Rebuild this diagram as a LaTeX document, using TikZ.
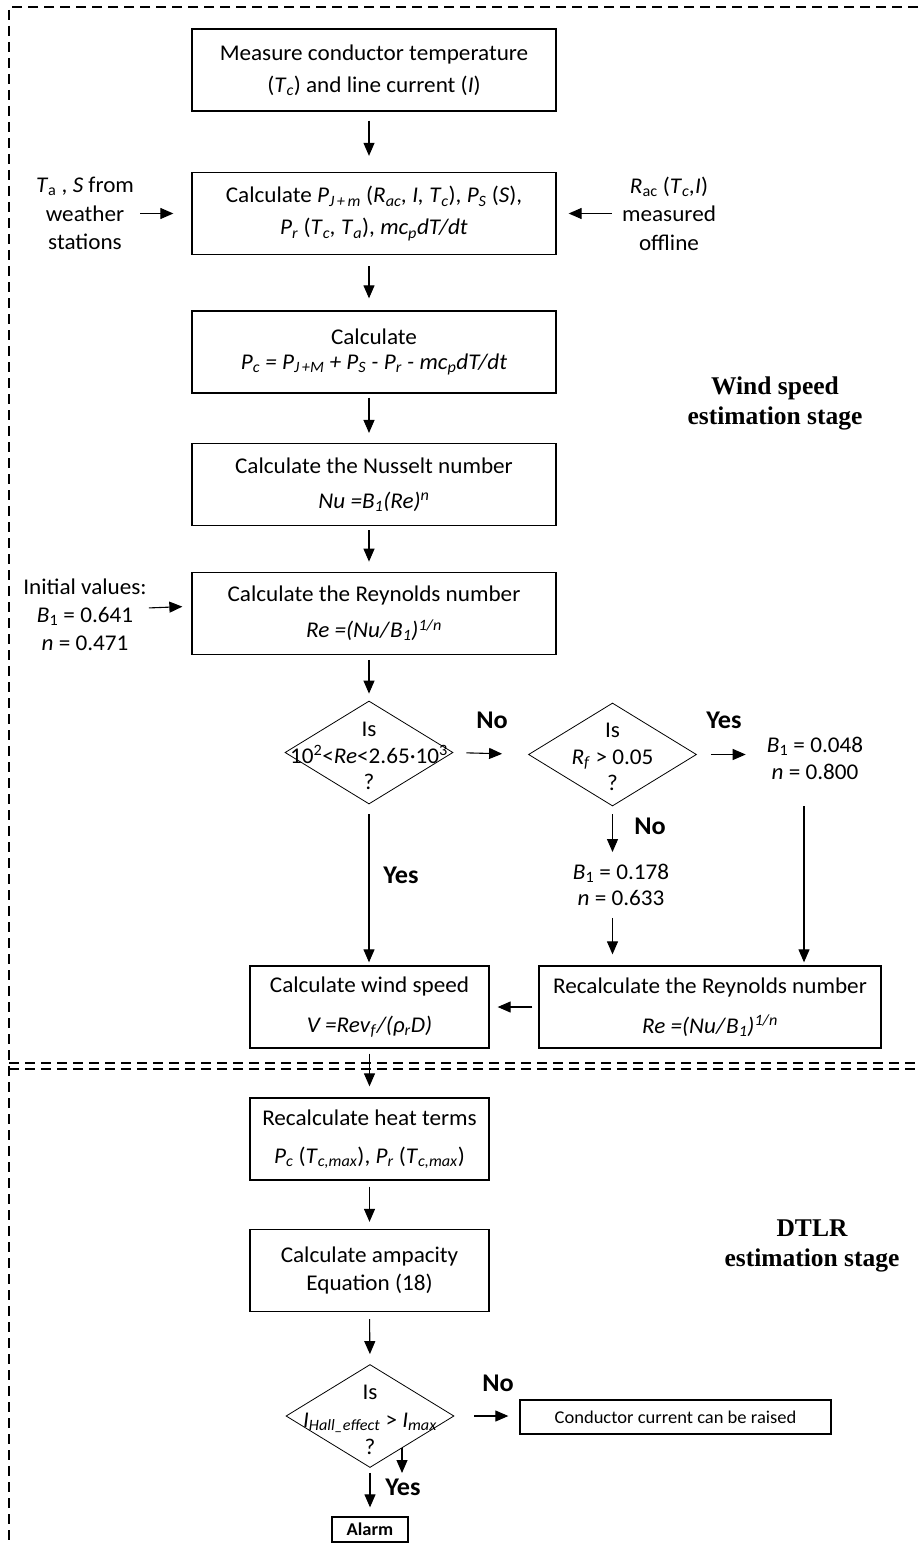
\documentclass[tikz,border=0pt]{standalone}
\usepackage{fontspec}
\setmainfont{Carlito}[FakeStretch=1.03]
\newfontfamily\tnr{Liberation Serif}
\usetikzlibrary{arrows.meta,shapes.geometric}
\newcommand\iv[2]{\textit{#1}\textsubscript{\textit{#2}}}
\newcommand\ivu[2]{\textit{#1}\textsubscript{#2}}
\begin{document}
\begin{tikzpicture}[x=1pt,y=-1pt,
  box/.style={draw, line width=1.3pt, minimum width=364pt, minimum height=82pt, inner sep=0pt, align=center, font=\fontsize{22.5}{#1}\selectfont},
  box/.default=32,
  dia/.style={draw, diamond, line width=0.8pt, minimum width=168pt, minimum height=103pt, inner sep=0pt},
  txt/.style={align=center, inner sep=0pt, font=\fontsize{22.5}{#1}\selectfont},
  txt/.default=28,
  lbl/.style={inner sep=0pt, font=\fontsize{25.5}{28}\selectfont\bfseries},
  arr/.style={draw, line width=1.1pt, -{Triangle[length=13pt,width=11pt]}},
  dashframe/.style={line width=1.2pt, dash pattern=on 10pt off 6pt},
  stage/.style={align=center, inner sep=0pt, font=\tnr\bfseries\fontsize{25.5}{30}\selectfont}
]
\useasboundingbox (0,0) rectangle (918,1546);

% frame
\draw[dashframe] (918,7) -- (9,7) -- (9,1546);
\draw[dashframe] (9,1063) -- (918,1063);
\draw[dashframe] (9,1069) -- (918,1069);

% boxes of the upper stage
\node[box=32] (b1) at (374,70) {Measure conductor temperature\\(\iv{T}{c}) and line current (\textit{I})};
\node[box=32] (b2) at (374,213.5) {Calculate \iv{P}{J\,+\,m} (\iv{R}{ac}\textit{, I, }\iv{T}{c}), \iv{P}{S} (\textit{S}),\\ \iv{P}{r} (\iv{T}{c}\textit{, }\iv{T}{a}), \textit{m}\iv{c}{p}\textit{dT/dt}};
\node[box=25] (b3) at (374,352) {Calculate\\ \iv{P}{c} \textit{=} \iv{P}{J\,+M} \textit{+} \iv{P}{S} \textit{-} \iv{P}{r} \textit{-} \textit{m}\iv{c}{p}\textit{dT/dt}};
\node[box=35] (b4) at (374,484.6) {Calculate the Nusselt number\\ \textit{Nu =}\iv{B}{1}\textit{(Re)}\textsuperscript{\textit{n}}};
\node[box=36] (b5) at (374,613.3) {Calculate the Reynolds number\\ \textit{Re =(Nu/}\iv{B}{1}\textit{)}\textsuperscript{\textit{1/n}}};

\node[txt=28.5] (ta) at (85,213.5) {\ivu{T}{a} , \textit{S} from\\ weather\\ stations};
\node[txt=28.5] (rac) at (669,213.5) {\ivu{R}{ac} (\iv{T}{c}\textit{,I})\\ measured\\ offline};
\node[txt=28] (ini) at (85,615) {Initial values:\\ \ivu{B}{1} = 0.641\\ \textit{n} = 0.471};

\node[stage] (ws) at (775,403) {Wind speed\\ estimation stage};
\node[stage] (dt) at (812,1246) {DTLR\\ estimation stage};

% decisions
\node[dia] (d1) at (369,752.5) {};
\node[txt=26.5] (d1t) at (369,756) {Is\\ 10\textsuperscript{2}<\textit{Re}<2.65·10\textsuperscript{3}\\ ?};
\node[dia] (d2) at (612.5,754.5) {};
\node[txt=26.5] (d2t) at (612.5,757) {Is\\ \iv{R}{f} > 0.05\\ ?};
\node[txt=27] (c048) at (815,758.5) {\ivu{B}{1} = 0.048\\ \textit{n} = 0.800};
\node[txt=26] (c178) at (621,885) {\ivu{B}{1} = 0.178\\ \textit{n} = 0.633};
\node[lbl] (no1) at (492,720) {No};
\node[lbl] (yes1) at (724,720) {Yes};
\node[lbl] (no2) at (650,826) {No};
\node[lbl] (yes2) at (401,875) {Yes};

\node[box=40, minimum width=342pt] (rr) at (710,1007) {Recalculate the Reynolds number\\ \textit{Re =(Nu/}\iv{B}{1}\textit{)}\textsuperscript{\textit{1/n}}};
\node[box=40, minimum width=239pt] (wv) at (369.5,1007) {Calculate wind speed\\ \textit{V =Rev}\textsubscript{\textit{f}}\textit{/(}\iv{ρ}{r}\textit{D)}};

% lower stage
\node[box=38, minimum width=239pt] (ht) at (369.5,1139) {Recalculate heat terms\\ \iv{P}{c} (\iv{T}{c,max}), \iv{P}{r} (\iv{T}{c,max})};
\node[box=28, minimum width=239pt] (amp) at (369.5,1270.5) {Calculate ampacity\\ Equation (18)};
\node[dia] (d3) at (370,1416) {};
\node[txt=27.5] (d3t) at (370,1420) {Is\\ \iv{I}{Hall\_effect} > \iv{I}{max}\\ ?};
\node[draw, line width=1.3pt, minimum width=311pt, minimum height=34pt, inner sep=0pt, font=\fontsize{18}{20}\selectfont] (cr) at (675.5,1417) {Conductor current can be raised};
\node[lbl] (no3) at (498,1383) {No};
\node[lbl] (yes3) at (403,1487) {Yes};
\node[draw, line width=1.3pt, minimum width=76pt, minimum height=25pt, inner sep=0pt, font=\fontsize{18}{20}\selectfont\bfseries] (al) at (370,1529.5) {Alarm};

\coordinate (rl) at (804,806);
\coordinate (sa) at (402,1448);
\coordinate (sb) at (402,1473);

% connectors
\draw[arr, shorten <=9pt, shorten >=16pt] (b1.south -| d1) -- (b2.north -| d1);
\draw[arr, shorten <=11pt, shorten >=12pt] (b2.south -| d1) -- (b3.north -| d1);
\draw[arr, shorten <=4pt, shorten >=10pt] (b3.south -| d1) -- (b4.north -| d1);
\draw[arr, shorten <=4pt, shorten >=10pt] (b4.south -| d1) -- (b5.north -| d1);
\draw[arr, shorten <=5pt, shorten >=7pt] (b5.south -| d1) -- (d1.north);
\draw[arr, shorten <=6pt, shorten >=18pt] (ta.east |- b2.west) -- (b2.west);
\draw[arr, shorten <=10pt, shorten >=12pt] (rac.west |- b2.east) -- (b2.east);
\draw[arr, shorten <=2pt, shorten >=9pt] ([yshift=7pt]ini.east) -- ([yshift=7pt]b5.west);
\draw[arr, shorten <=13pt, shorten >=26pt] (d1.east) -- (d2.west);
\draw[arr, shorten <=14pt, shorten >=21pt] (d2.east) -- (c048.west |- d2.east);
\draw[arr, shorten <=8pt, shorten >=12pt] (d2.south) -- (d2.south |- c178.north);
\draw[arr, shorten <=12pt, shorten >=11pt] (c178.south -| d2) -- (rr.north -| d2);
\draw[arr, shorten >=3pt] (rl) -- (rl |- rr.north);
\draw[arr, shorten <=10pt, shorten >=3pt] (d1.south) -- (d1.south |- wv.north);
\draw[arr, shorten <=6pt, shorten >=8pt] (rr.west) -- (wv.east);
\draw[arr, shorten <=5pt, shorten >=11pt] (wv.south) -- (ht.north);
\draw[arr, shorten <=6pt, shorten >=7pt] (ht.south) -- (amp.north);
\draw[arr, shorten <=7pt, shorten >=10pt] (amp.south) -- (d3.north);
\draw[arr, shorten <=20pt, shorten >=11pt] (d3.east) -- (cr.west |- d3.east);
\draw[arr, shorten <=5pt, shorten >=9pt] (d3.south) -- (al.north);
\draw[arr] (sa) -- (sb);
\end{tikzpicture}
\end{document}
